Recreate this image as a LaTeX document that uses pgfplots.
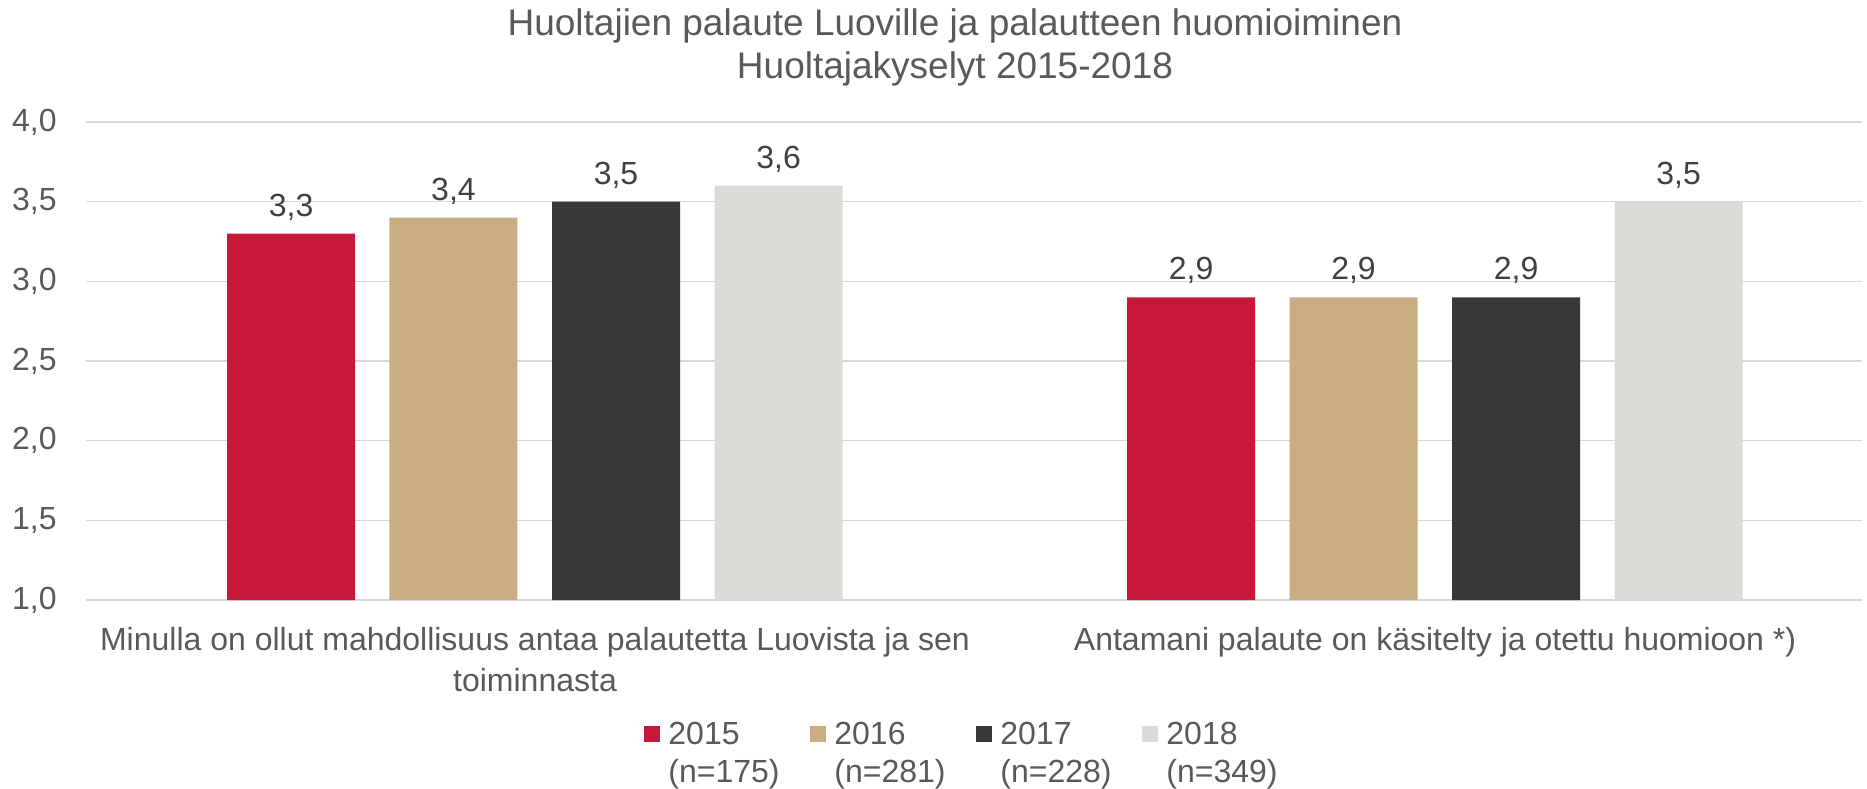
\documentclass[border=0pt]{standalone}
\usepackage{fontspec}
\setmainfont{Liberation Sans}
\usepackage{pgfplots}
\pgfplotsset{compat=1.18}
\definecolor{c15}{HTML}{C8183A}
\definecolor{c16}{HTML}{C9AE84}
\definecolor{c17}{HTML}{383838}
\definecolor{c18}{HTML}{DCDBD5}
\definecolor{txt}{HTML}{595959}
\definecolor{lab}{HTML}{404040}
\definecolor{grd}{HTML}{D9D9D9}
\begin{document}
\begin{tikzpicture}
\begin{axis}[
  scale only axis, width=888pt, height=239pt,
  xmin=-0.4989, xmax=1.4744, ymin=1, ymax=4,
  ytick={1,1.5,2,2.5,3,3.5,4},
  xtick={0,1},
  xticklabels={{Minulla on ollut mahdollisuus antaa palautetta Luovista ja sen\\toiminnasta},{Antamani palaute on käsitelty ja otettu huomioon *)}},
  axis line style={draw=none}, major tick length=0pt,
  ymajorgrids, grid style={grd, line width=0.75pt},
  /pgf/number format/.cd, use comma, fixed, fixed zerofill, precision=1, assume math mode=true,
  /pgfplots/.cd,
  yticklabel style={font=\fontsize{16}{19}\selectfont, text=txt, inner sep=0pt, anchor=east, xshift=-14.5pt},
  xticklabel style={font=\fontsize{16}{20.5}\selectfont, text=txt, align=center, inner sep=0pt, anchor=north, yshift=-13.5pt},
  title={Huoltajien palaute Luoville ja palautteen huomioiminen\\Huoltajakyselyt 2015-2018},
  title style={at={(0.4893,1.1307)}, anchor=center, align=center, font=\fontsize{18.5}{21.5}\selectfont, text=txt, inner sep=0pt},
  nodes near coords,
  every node near coord/.append style={font=\fontsize{16}{19}\selectfont, text=lab, anchor=south, inner sep=0pt, yshift=6.5pt},
  legend columns=4,
  legend style={at={(0.3142,-0.2552)}, anchor=north west, draw=none, inner sep=0pt, column sep=4pt,
    nodes={inner sep=0pt, text width=67pt, align=left, font=\fontsize{16}{19}\selectfont, text=txt}},
  legend image code/.code={\fill[#1] (0pt,-3.5pt) rectangle (8pt,4.5pt);},
]
\addplot[ybar, bar width=0.1422, bar shift=0pt, fill=c15, draw=none] coordinates {(-0.271,3.3) (0.729,2.9)};
\addplot[ybar, bar width=0.1422, bar shift=0pt, fill=c16, draw=none] coordinates {(-0.0906,3.4) (0.9094,2.9)};
\addplot[ybar, bar width=0.1422, bar shift=0pt, fill=c17, draw=none] coordinates {(0.0900,3.5) (1.0900,2.9)};
\addplot[ybar, bar width=0.1422, bar shift=0pt, fill=c18, draw=none] coordinates {(0.2706,3.6) (1.2706,3.5)};
\legend{{2015\\(n=175)},{2016\\(n=281)},{2017\\(n=228)},{2018\\(n=349)}}
\end{axis}
\pgfresetboundingbox
\path[use as bounding box] (-43pt,-94pt) rectangle (890.5pt,300pt);
\end{tikzpicture}
\end{document}
